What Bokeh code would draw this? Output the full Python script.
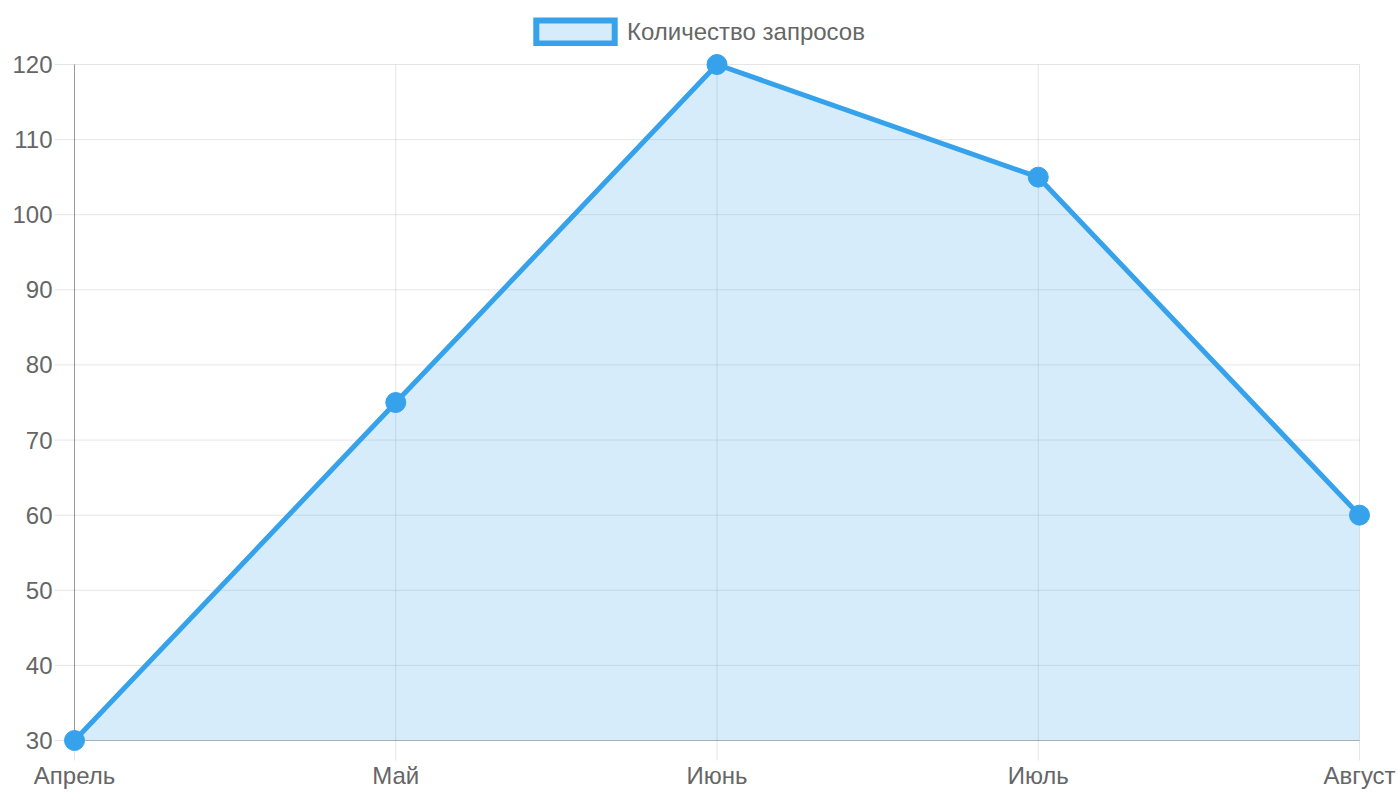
from bokeh.plotting import figure
from bokeh.models import Range1d, FixedTicker, Legend, LegendItem, ColumnDataSource
from bokeh.embed import file_html
from bokeh.resources import INLINE

# ---- data ----
months = ["Апрель", "Май", "Июнь", "Июль", "Август"]
requests = [30, 75, 120, 105, 60]
y_ticks = [30, 40, 50, 60, 70, 80, 90, 100, 110, 120]
series_name = "Количество запросов"

# ---- style / layout ----
BLUE = "#36A2EB"
FONT = "Liberation Sans"
FONT_SIZE = "24px"
LABEL_COLOR = "#666666"
GRID_COLOR = "rgba(0,0,0,0.1)"

PLOT_W = 1285   # pixel width of the chart area
PLOT_H = 676    # pixel height of the chart area
PAD_L, PAD_R, PAD_T, PAD_B = 21, 13, 64, 21   # room for ticks / markers / legend
TICK = 20

xs = list(range(len(months)))
x_min, x_max = xs[0], xs[-1]
y_min, y_max = y_ticks[0], y_ticks[-1]
px_x = PLOT_W / (x_max - x_min)
px_y = PLOT_H / (y_max - y_min)

p = figure(
    frame_width=PLOT_W + PAD_L + PAD_R,
    frame_height=PLOT_H + PAD_T + PAD_B,
    x_range=Range1d(x_min - PAD_L / px_x, x_max + PAD_R / px_x),
    y_range=Range1d(y_min - PAD_B / px_y, y_max + PAD_T / px_y),
    output_backend="svg",
    toolbar_location=None,
    min_border_left=53,
    min_border_right=24,
    min_border_top=0,
    min_border_bottom=31,
)
p.outline_line_color = None
p.xgrid.visible = False
p.ygrid.visible = False
p.background_fill_color = "white"

# ---- grid lines (with outward tick stubs) ----
ny = len(y_ticks)
hgrid = ColumnDataSource(dict(x0=[x_min - TICK / px_x] * ny, x1=[x_max] * ny, y=y_ticks))
p.segment(x0="x0", y0="y", x1="x1", y1="y", source=hgrid, line_color=GRID_COLOR, line_width=1)
nx = len(xs)
vgrid = ColumnDataSource(dict(x=xs, y0=[y_min - TICK / px_y] * nx, y1=[y_max] * nx))
p.segment(x0="x", y0="y0", x1="x", y1="y1", source=vgrid, line_color=GRID_COLOR, line_width=1)

# axis border lines
p.segment(x0=[x_min], y0=[y_min], x1=[x_min], y1=[y_max], line_color="rgba(0,0,0,0.33)", line_width=1)
p.segment(x0=[x_min], y0=[y_min], x1=[x_max], y1=[y_min], line_color="rgba(0,0,0,0.22)", line_width=1)

# ---- series ----
src = ColumnDataSource(dict(x=xs, y=requests, base=[y_min] * len(xs)))
p.varea(x="x", y1="base", y2="y", source=src, fill_color=BLUE, fill_alpha=0.2)
p.line(x="x", y="y", source=src, line_color=BLUE, line_width=5)
p.scatter(x="x", y="y", source=src, size=20, fill_color=BLUE, line_color=BLUE, line_width=1)

# legend glyph renderer (hidden, used only for its legend swatch)
dummy = p.rect(x="x", y="y", source=src, width=0, height=0, fill_color=BLUE, fill_alpha=0.2,
               line_color=BLUE, line_width=6, line_join="miter", visible=False)
legend = Legend(
    items=[LegendItem(label=series_name, renderers=[dummy])],
    location=(473, 715),
    orientation="horizontal",
    glyph_width=98, glyph_height=29, label_height=29,
    label_standoff=3, padding=0, margin=0, spacing=0,
    border_line_color=None, background_fill_alpha=0,
    label_text_font=FONT, label_text_font_size=FONT_SIZE, label_text_color=LABEL_COLOR,
)
p.add_layout(legend)

# ---- axes ----
for ax in (p.xaxis[0], p.yaxis[0]):
    ax.axis_line_color = None
    ax.major_tick_line_color = None
    ax.minor_tick_line_color = None
    ax.major_tick_out = 0
    ax.major_tick_in = 0
    ax.major_label_text_font = FONT
    ax.major_label_text_font_size = FONT_SIZE
    ax.major_label_text_color = LABEL_COLOR

p.xaxis.ticker = FixedTicker(ticks=xs)
p.xaxis.major_label_overrides = {i: m for i, m in zip(xs, months)}
p.xaxis.major_label_standoff = 0
p.yaxis.ticker = FixedTicker(ticks=y_ticks)
p.yaxis.major_label_standoff = 1

with open("out.html", "w", encoding="utf-8") as f:
    f.write(file_html(p, INLINE, title="chart"))
